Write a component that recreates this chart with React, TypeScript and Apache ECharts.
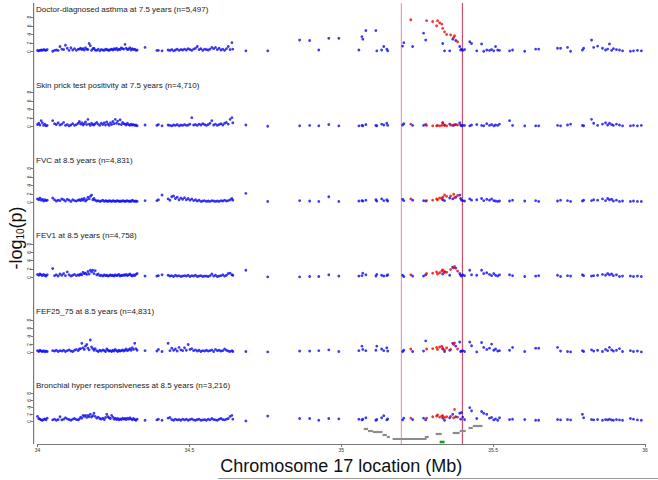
import React, { useEffect, useRef } from "react";
import * as echarts from "echarts";

// ---------------- data ----------------
const panelTitles = [
  "Doctor-diagnosed asthma at 7.5 years (n=5,497)",
  "Skin prick test positivity at 7.5 years (n=4,710)",
  "FVC at 8.5 years (n=4,831)",
  "FEV1 at 8.5 years (n=4,758)",
  "FEF25_75 at 8.5 years (n=4,831)",
  "Bronchial hyper responsiveness at 8.5 years (n=3,216)",
];

const xTicks = [34, 34.5, 35, 35.5, 36];
const yTicks = [0, 2, 4, 6, 8];
const regionBounds = [35.198, 35.399];

// SNP positions (Mb) shown in blue
const bluePos = [
  34.000, 34.004, 34.008, 34.012, 34.016, 34.020, 34.024, 34.028, 34.032, 34.050, 34.056, 34.062,
  34.068, 34.074, 34.080, 34.086, 34.092, 34.098, 34.104, 34.110, 34.116, 34.122, 34.128, 34.134,
  34.138, 34.142, 34.146, 34.150, 34.154, 34.158, 34.162, 34.166, 34.170, 34.174, 34.178, 34.182,
  34.186, 34.190, 34.195, 34.200, 34.205, 34.210, 34.215, 34.220, 34.224, 34.228, 34.232, 34.236,
  34.240, 34.244, 34.248, 34.252, 34.256, 34.260, 34.264, 34.268, 34.272, 34.276, 34.280, 34.284,
  34.288, 34.292, 34.296, 34.300, 34.304, 34.308, 34.312, 34.316, 34.320, 34.324, 34.328, 34.354,
  34.393, 34.398, 34.410, 34.430, 34.436, 34.442, 34.448, 34.454, 34.460, 34.466, 34.472, 34.478,
  34.484, 34.490, 34.496, 34.502, 34.508, 34.514, 34.520, 34.526, 34.532, 34.538, 34.544, 34.550,
  34.556, 34.562, 34.568, 34.574, 34.580, 34.586, 34.592, 34.598, 34.604, 34.610, 34.616, 34.622,
  34.628, 34.634, 34.640, 34.643, 34.686, 34.758, 34.863, 34.896, 34.926, 34.959, 34.992, 35.058,
  35.068, 35.071, 35.081, 35.114, 35.117, 35.133, 35.140, 35.150, 35.153, 35.202, 35.206, 35.235,
  35.271, 35.278, 35.334, 35.340, 35.357, 35.367, 35.377, 35.390, 35.393, 35.396, 35.400, 35.406,
  35.423, 35.429, 35.446, 35.462, 35.469, 35.479, 35.488, 35.495, 35.502, 35.508, 35.515, 35.521,
  35.554, 35.564, 35.604, 35.640, 35.650, 35.712, 35.722, 35.745, 35.755, 35.794, 35.798, 35.824,
  35.831, 35.844, 35.860, 35.870, 35.877, 35.883, 35.890, 35.896, 35.906, 35.916, 35.926, 35.952,
  35.962, 35.975, 35.988,
];

// SNP positions (Mb) shown in red
const redPos = [35.229, 35.281, 35.301, 35.314, 35.317, 35.324, 35.331, 35.334, 35.340, 35.347, 35.360, 35.370, 35.373, 35.383];

// -log10(p) values, blue SNPs
const blueAsthma = [
  0.3, 0.2, 0.3, 0.4, 0.3, 0.5, 0.4, 0.3, 0.5, 0.1, 0.3, 0.4,
  0.3, 1.2, 0.6, 0.5, 1.5, 0.8, 0.3, 0.9, 0.4, 0.7, 0.3, 0.6,
  0.6, 0.8, 0.5, 0.7, 0.4, 0.9, 0.6, 0.5, 1.9, 1.4, 0.3, 0.7,
  0.8, 0.4, 0.3, 0.6, 0.2, 0.5, 0.4, 0.3, 0.6, 0.5, 0.4, 0.3,
  0.5, 0.6, 0.4, 0.7, 0.5, 0.8, 0.4, 0.6, 0.5, 0.9, 0.7, 0.6,
  1.7, 0.8, 0.5, 0.6, 0.9, 0.4, 0.7, 0.5, 0.6, 0.3, 0.4, 1.0,
  0.3, 0.3, 0.2, 0.4, 0.3, 0.5, 0.2, 0.4, 0.6, 0.3, 0.5, 0.4,
  0.6, 0.4, 0.7, 0.5, 0.3, 0.6, 0.8, 1.2, 0.5, 0.7, 0.3, 0.6,
  0.5, 0.4, 0.6, 1.0, 0.7, 1.0, 0.5, 0.8, 0.4, 0.6, 0.3, 0.7,
  1.2, 0.5, 2.1, 0.6, 0.2, 0.2, 2.7, 2.6, 0.4, 3.1, 3.1, 0.4,
  3.5, 2.9, 4.9, 4.9, 0.2, 0.4, 1.2, 0.6, 0.2, 1.3, 2.1, 1.2,
  4.3, 2.7, 1.9, 0.2, 0.2, 2.9, 2.6, 1.2, 0.4, 0.6, 0.3, 0.5,
  2.3, 1.9, 0.2, 1.8, 0.1, 0.4, 0.3, 0.5, 0.2, 1.2, 0.4, 0.3,
  0.2, 0.4, 0.1, 0.6, 0.6, 0.8, 0.8, 1.0, 0.1, 0.4, 0.8, 2.7,
  1.0, 1.3, 0.8, 0.4, 0.6, 1.8, 0.3, 0.7, 0.5, 0.4, 0.2, 0.1,
  0.2, 0.3, 0.2,
];
const blueSkin = [
  0.5, 0.8, 0.4, 1.4, 0.9, 0.3, 0.6, 0.2, 0.3, 1.4, 0.7, 0.5,
  0.9, 0.4, 0.6, 1.0, 0.3, 0.5, 0.2, 0.4, 0.7, 0.3, 0.5, 0.8,
  1.2, 0.6, 0.9, 0.4, 0.7, 1.1, 0.5, 1.7, 0.6, 0.3, 0.8, 0.5,
  0.4, 0.7, 1.0, 0.6, 0.3, 0.8, 0.5, 0.9, 0.4, 1.1, 0.6, 0.3,
  0.9, 0.5, 1.2, 0.7, 1.7, 0.8, 1.3, 0.6, 1.6, 0.5, 1.0, 0.7,
  0.6, 0.4, 0.8, 0.5, 0.3, 0.6, 0.4, 0.5, 0.3, 0.4, 0.2, 0.4,
  0.3, 0.5, 0.2, 0.4, 0.3, 0.2, 0.4, 0.3, 0.5, 0.2, 0.4, 0.3,
  0.5, 0.3, 0.4, 0.6, 2.1, 0.4, 0.5, 0.3, 0.6, 0.4, 0.7, 0.5,
  0.3, 0.5, 0.8, 1.4, 0.4, 0.6, 0.3, 0.5, 0.7, 0.4, 0.8, 1.0,
  0.6, 1.7, 2.1, 0.9, 0.4, 0.1, 0.2, 0.3, 0.2, 0.5, 0.2, 0.2,
  0.3, 0.2, 0.5, 0.3, 0.2, 0.6, 0.4, 0.8, 0.3, 0.4, 0.7, 0.3,
  0.3, 0.5, 0.9, 0.4, 0.6, 0.3, 0.5, 0.9, 0.4, 0.2, 0.3, 0.3,
  0.2, 0.4, 0.5, 0.3, 0.2, 0.7, 0.3, 0.5, 0.2, 0.4, 0.3, 0.6,
  1.4, 0.3, 0.2, 0.2, 0.2, 0.3, 0.2, 0.4, 0.6, 0.3, 0.2, 1.7,
  0.8, 0.3, 0.6, 0.9, 0.4, 0.8, 0.5, 0.3, 0.6, 0.4, 0.2, 0.2,
  0.3, 0.2, 0.3,
];
const blueFvc = [
  0.8, 0.6, 1.0, 0.5, 0.7, 0.3, 0.6, 0.4, 0.5, 1.0, 0.6, 0.3,
  0.5, 0.4, 0.8, 0.6, 0.3, 0.7, 0.5, 0.2, 0.6, 0.4, 0.3, 0.5,
  0.6, 0.4, 0.8, 0.5, 0.9, 0.3, 0.6, 1.2, 0.8, 1.4, 1.7, 0.6,
  0.9, 0.5, 0.3, 0.4, 0.2, 0.3, 0.5, 0.2, 0.4, 0.3, 0.2, 0.4,
  0.3, 0.2, 0.4, 0.3, 0.2, 0.3, 0.4, 0.2, 0.3, 0.2, 0.4, 0.3,
  0.2, 0.3, 0.4, 0.2, 0.3, 0.2, 0.5, 0.3, 0.2, 0.3, 0.2, 0.4,
  0.4, 0.6, 1.7, 0.8, 0.5, 1.3, 1.5, 0.9, 1.2, 0.6, 1.0, 0.7,
  1.1, 0.6, 0.9, 0.5, 0.8, 0.4, 0.6, 0.3, 0.5, 0.2, 0.3, 0.4,
  0.2, 0.3, 0.2, 0.4, 0.3, 0.2, 0.3, 0.2, 0.4, 0.3, 0.5, 0.3,
  0.4, 0.6, 0.9, 0.5, 2.1, 0.2, 0.4, 0.3, 0.2, 1.3, 0.2, 0.3,
  0.4, 0.3, 0.5, 0.6, 0.3, 0.8, 0.4, 0.6, 0.3, 0.7, 0.4, 0.5,
  0.4, 0.3, 0.6, 0.4, 1.0, 0.8, 1.2, 1.7, 0.9, 0.5, 0.4, 0.3,
  0.8, 0.5, 0.6, 0.9, 0.4, 0.7, 0.5, 0.8, 0.4, 0.3, 0.2, 0.3,
  0.3, 0.5, 0.3, 0.4, 0.2, 0.3, 0.5, 0.4, 0.2, 0.3, 0.5, 0.4,
  0.6, 0.5, 0.8, 0.4, 0.9, 0.6, 0.7, 0.3, 0.5, 0.2, 0.3, 0.2,
  0.3, 0.2, 0.2,
];
const blueFev1 = [
  0.7, 0.5, 0.8, 0.6, 0.4, 0.7, 0.5, 0.3, 0.6, 2.1, 0.4, 0.6,
  0.3, 0.8, 0.5, 0.9, 0.4, 1.3, 0.6, 0.3, 0.5, 0.7, 0.4, 0.6,
  0.5, 0.8, 0.6, 1.2, 0.9, 1.0, 0.7, 1.4, 0.8, 1.7, 1.3, 1.7,
  0.9, 1.6, 0.6, 0.8, 0.4, 0.5, 0.3, 0.6, 0.4, 0.5, 0.3, 0.4,
  0.6, 0.4, 0.5, 0.3, 0.6, 0.4, 0.5, 0.7, 0.3, 0.5, 0.4, 0.6,
  0.5, 0.7, 0.4, 0.6, 0.8, 0.5, 0.3, 0.6, 0.4, 0.7, 0.9, 0.3,
  0.3, 0.4, 0.6, 0.5, 0.3, 0.4, 0.2, 0.5, 0.3, 0.4, 0.2, 0.3,
  0.4, 0.3, 0.5, 0.2, 0.4, 0.3, 0.5, 0.2, 0.3, 0.4, 0.2, 0.3,
  0.3, 0.2, 0.4, 0.8, 0.3, 0.5, 0.2, 0.3, 0.4, 0.6, 0.3, 0.5,
  0.9, 1.0, 0.6, 0.5, 1.7, 0.1, 0.1, 0.2, 0.2, 0.6, 0.3, 0.3,
  0.4, 1.0, 0.6, 0.3, 0.7, 0.5, 0.3, 0.4, 0.6, 0.5, 0.2, 0.3,
  0.3, 0.6, 0.8, 1.2, 0.5, 2.4, 2.2, 0.9, 0.5, 0.3, 0.6, 0.4,
  1.7, 0.6, 0.5, 1.7, 0.9, 1.1, 0.7, 0.4, 0.9, 0.5, 0.3, 0.6,
  0.6, 0.4, 0.2, 0.3, 0.4, 0.5, 0.2, 0.4, 0.3, 0.6, 0.4, 0.3,
  0.4, 0.5, 0.7, 0.5, 0.9, 0.6, 0.8, 0.4, 0.6, 0.2, 0.3, 0.3,
  0.2, 0.3, 0.2,
];
const blueFef = [
  0.5, 0.3, 0.6, 0.4, 0.3, 0.5, 0.2, 0.4, 0.3, 0.5, 0.4, 0.6,
  0.3, 0.5, 0.4, 0.6, 0.3, 0.5, 0.7, 0.4, 0.3, 0.6, 0.8, 0.5,
  0.9, 1.0, 2.3, 1.2, 0.8, 1.6, 2.0, 1.1, 0.7, 3.1, 1.4, 1.0,
  0.6, 1.0, 0.5, 0.3, 0.6, 0.4, 0.7, 0.5, 0.3, 0.9, 0.6, 0.4,
  0.5, 0.3, 0.6, 0.4, 0.8, 0.5, 0.3, 0.6, 0.4, 0.5, 0.7, 0.4,
  0.6, 0.9, 0.5, 0.7, 1.0, 0.6, 1.2, 0.8, 2.3, 1.0, 0.6, 0.5,
  0.4, 0.8, 0.3, 2.3, 0.5, 1.1, 0.6, 0.9, 0.4, 1.3, 0.7, 0.5,
  1.2, 0.6, 2.0, 0.8, 1.0, 0.5, 0.7, 0.4, 0.6, 0.3, 0.5, 0.4,
  0.6, 0.4, 0.5, 0.7, 0.3, 0.8, 0.5, 0.6, 0.4, 0.5, 0.9, 0.6,
  0.4, 0.3, 0.5, 0.3, 0.3, 0.2, 0.4, 0.4, 0.5, 0.7, 0.3, 0.5,
  1.6, 0.8, 0.5, 0.6, 1.6, 0.9, 0.5, 1.2, 0.4, 0.3, 0.6, 0.3,
  0.4, 2.9, 0.9, 0.3, 0.6, 2.3, 1.6, 2.6, 0.3, 0.4, 0.5, 0.3,
  2.6, 1.7, 0.2, 2.5, 1.3, 0.8, 1.1, 2.1, 0.6, 0.9, 0.4, 0.5,
  0.6, 1.3, 0.3, 1.1, 1.1, 1.3, 0.4, 0.3, 0.2, 0.5, 0.3, 0.7,
  0.4, 0.6, 0.3, 0.8, 0.5, 1.3, 0.7, 0.4, 0.6, 1.0, 0.3, 0.5,
  0.3, 0.4, 0.2,
];
const blueBhr = [
  1.4, 0.8, 0.6, 0.4, 0.3, 0.5, 0.7, 0.4, 0.9, 0.4, 0.6, 0.3,
  0.5, 1.3, 0.4, 0.6, 1.0, 0.7, 0.5, 0.3, 0.6, 0.8, 0.5, 0.4,
  0.7, 1.2, 0.9, 1.7, 1.4, 1.7, 1.1, 1.7, 1.3, 2.0, 1.2, 1.6,
  2.3, 1.4, 0.9, 1.2, 0.8, 0.6, 0.9, 0.5, 1.1, 2.0, 1.3, 1.0,
  0.8, 1.7, 1.2, 0.6, 0.9, 0.5, 0.8, 0.4, 0.7, 0.5, 0.9, 0.6,
  0.8, 0.5, 0.9, 0.6, 1.0, 0.7, 0.4, 0.8, 0.5, 0.3, 0.6, 0.3,
  0.4, 0.6, 0.3, 0.9, 1.1, 0.5, 0.3, 0.6, 0.4, 0.5, 0.3, 0.6,
  0.4, 0.6, 0.3, 0.5, 0.7, 0.4, 0.3, 0.5, 0.6, 0.3, 0.4, 0.5,
  0.3, 0.6, 0.4, 0.8, 0.5, 0.4, 0.3, 0.6, 0.8, 0.5, 0.4, 0.6,
  0.8, 1.4, 1.7, 0.6, 0.1, 1.5, 0.8, 0.8, 0.3, 0.8, 0.7, 0.6,
  0.4, 0.6, 1.0, 0.3, 0.5, 1.0, 1.6, 0.4, 0.7, 0.4, 0.9, 0.5,
  0.9, 0.4, 0.9, 0.3, 1.0, 2.0, 1.3, 2.3, 0.6, 2.5, 1.2, 0.5,
  3.9, 3.0, 0.8, 2.8, 2.3, 2.0, 0.9, 1.1, 0.4, 0.7, 0.3, 1.0,
  0.5, 0.6, 0.5, 0.3, 0.3, 0.5, 0.4, 0.5, 0.4, 2.0, 1.0, 0.5,
  0.4, 0.5, 0.3, 0.5, 0.4, 0.6, 0.4, 0.3, 0.5, 0.4, 0.3, 0.8,
  0.6, 0.4, 0.3,
];

// -log10(p) values, red SNPs
const redAsthma = [7.4, 7.2, 7.0, 6.0, 7.2, 6.7, 6.4, 5.4, 4.6, 4.0, 3.9, 3.3, 3.7, 2.3];
const redSkin = [0.6, 0.3, 0.2, 0.2, 0.3, 0.2, 0.3, 0.9, 0.3, 0.2, 0.4, 0.3, 0.5, 0.4];
const redFvc = [0.8, 0.4, 0.5, 0.8, 0.6, 1.0, 0.9, 1.2, 1.7, 1.4, 1.5, 1.9, 1.1, 1.6];
const redFev1 = [0.6, 0.9, 1.0, 1.3, 0.8, 1.1, 1.5, 1.8, 1.4, 1.2, 1.9, 2.3, 2.6, 1.5];
const redFef = [0.9, 0.9, 1.0, 1.3, 0.8, 1.4, 1.6, 1.1, 0.7, 1.2, 0.8, 2.0, 2.4, 0.9];
const redBhr = [0.9, 0.9, 1.3, 1.5, 1.8, 1.2, 1.5, 1.6, 1.1, 1.3, 1.4, 1.0, 3.4, 1.2];

// gene track: [start Mb, end Mb, track row]
const geneSegments = [
  [35.074, 35.088, 5], [35.088, 35.104, 7], [35.104, 35.136, 8], [35.136, 35.150, 11],
  [35.150, 35.160, 13], [35.169, 35.281, 15], [35.275, 35.288, 13], [35.311, 35.331, 10],
  [35.367, 35.390, 9], [35.390, 35.410, 7], [35.419, 35.433, 4], [35.433, 35.465, 2],
];
const highlightSegments = [[35.324, 35.340, 18]];

// ---------------- layout ----------------
const blueVals = [blueAsthma, blueSkin, blueFvc, blueFev1, blueFef, blueBhr];
const redVals = [redAsthma, redSkin, redFvc, redFev1, redFef, redBhr];
const panelZero = [51.7, 126.7, 202.3, 277.3, 352.7, 421.3];
const panelH = [34.5, 34.5, 34, 33.3, 32.7, 28];
const titleCenter = [10.7, 86, 161, 236.7, 312.7, 386.7];
const GL = 37.5;
const GR = 13;
const FONT = "'Liberation Sans', Arial, sans-serif";
const AXIS_GREY = "#777777";

export default function App() {
  const ref = useRef<HTMLDivElement>(null);
  useEffect(() => {
    if (!ref.current) return;
    const chart = echarts.init(ref.current, undefined, { renderer: "svg" });
    const n = panelTitles.length;
    const grids: any[] = [];
    const xAxes: any[] = [];
    const yAxes: any[] = [];
    const series: any[] = [];
    for (let i = 0; i < n; i++) {
      grids.push({ left: GL, right: GR, top: panelZero[i] - panelH[i], height: panelH[i] });
      xAxes.push({ type: "value", gridIndex: i, min: 34, max: 36, show: false });
      yAxes.push({
        type: "value",
        gridIndex: i,
        min: yTicks[0],
        max: yTicks[yTicks.length - 1],
        interval: 2,
        offset: 4,
        axisLine: { show: false },
        axisTick: { show: true, length: 3, lineStyle: { color: AXIS_GREY, width: 1 } },
        axisLabel: { rotate: 90, fontSize: 5, margin: 2, color: "#333", fontFamily: FONT },
        splitLine: { show: false },
      });
      series.push({
        type: "scatter",
        xAxisIndex: i,
        yAxisIndex: i,
        data: bluePos.map((x, j) => [x, blueVals[i][j]]),
        symbolSize: 2.8,
        itemStyle: { color: "#0a0af0" },
        clip: false,
        silent: true,
        z: 5,
      });
      series.push({
        type: "scatter",
        xAxisIndex: i,
        yAxisIndex: i,
        data: redPos.map((x, j) => [x, redVals[i][j]]),
        symbolSize: 2.8,
        itemStyle: { color: "#f00000" },
        clip: false,
        silent: true,
        z: 6,
      });
    }
    // gene track grid
    const trackIdx = n;
    grids.push({ left: GL, right: GR, top: 424, height: 22 });
    xAxes.push({ type: "value", gridIndex: trackIdx, min: 34, max: 36, show: false });
    yAxes.push({ type: "value", gridIndex: trackIdx, min: 0, max: 22, inverse: true, show: false });
    const segRender = (fill: string, h: number) => (params: any, api: any) => {
      const s = api.coord([api.value(0), api.value(2)]);
      const e = api.coord([api.value(1), api.value(2)]);
      return {
        type: "rect",
        shape: { x: s[0], y: s[1] - h / 2, width: e[0] - s[0], height: h },
        style: { fill },
      };
    };
    series.push({
      type: "custom",
      xAxisIndex: trackIdx,
      yAxisIndex: trackIdx,
      data: geneSegments,
      encode: { x: [0, 1], y: 2 },
      renderItem: segRender("#8c8c8c", 2.2),
      silent: true,
      z: 3,
    });
    series.push({
      type: "custom",
      xAxisIndex: trackIdx,
      yAxisIndex: trackIdx,
      data: highlightSegments,
      encode: { x: [0, 1], y: 2 },
      renderItem: segRender("#1a9a2a", 2.6),
      silent: true,
      z: 3,
    });
    // overlay grid (full height): x axis, left frame line and region lines
    const ovIdx = n + 1;
    grids.push({ left: GL, right: GR, top: 3, bottom: 34 });
    xAxes.push({
      type: "value",
      gridIndex: ovIdx,
      min: xTicks[0],
      max: xTicks[xTicks.length - 1],
      interval: 0.5,
      axisLine: { show: true, lineStyle: { color: AXIS_GREY, width: 1 } },
      axisTick: { show: true, length: 3, lineStyle: { color: AXIS_GREY } },
      axisLabel: { fontSize: 5, margin: 3, color: "#333", fontFamily: FONT, formatter: (v: number) => String(v) },
      splitLine: { show: false },
      name: "Chromosome 17 location (Mb)",
      nameLocation: "middle",
      nameGap: 12,
      nameTextStyle: { fontSize: 18, color: "#111", fontFamily: FONT },
    });
    yAxes.push({
      type: "value",
      gridIndex: ovIdx,
      min: 0,
      max: 1,
      show: false,
    });
    // left frame line drawn as a custom element spanning the overlay grid
    series.push({
      type: "custom",
      xAxisIndex: ovIdx,
      yAxisIndex: ovIdx,
      data: [[xTicks[0], 0]],
      renderItem: (params: any, api: any) => {
        const top = api.coord([xTicks[0], 1]);
        const bot = api.coord([xTicks[0], 0]);
        return {
          type: "rect",
          shape: { x: top[0] - 4.5, y: top[1], width: 1.2, height: bot[1] - top[1] },
          style: { fill: "#7a7a7a" },
        };
      },
      clip: false,
      silent: true,
      z: 10,
    });
    const boundColors = ["#e0a2ba", "#c8506c"];
    regionBounds.forEach((b, k) => {
      series.push({
        type: "line",
        xAxisIndex: ovIdx,
        yAxisIndex: ovIdx,
        data: [[b, 0], [b, 1]],
        symbol: "none",
        lineStyle: { color: boundColors[k], width: 1.2 },
        silent: true,
        z: 1,
      });
    });

    chart.setOption({
      animation: false,
      backgroundColor: "#ffffff",
      textStyle: { fontFamily: FONT },
      title: panelTitles.map((t, i) => ({
        text: t,
        left: 36,
        top: titleCenter[i] - 5,
        padding: 0,
        textStyle: { fontSize: 8, fontWeight: "normal", color: "#222", fontFamily: FONT },
      })),
      grid: grids,
      xAxis: xAxes,
      yAxis: yAxes,
      series,
      graphic: [
        {
          type: "text",
          x: 16,
          y: 238,
          rotation: Math.PI / 2,
          style: {
            text: "-log{s|10}(p)",
            fontSize: 18,
            fontFamily: FONT,
            fill: "#111",
            align: "center",
            verticalAlign: "middle",
            rich: {
              s: { fontSize: 10, fontFamily: FONT, fill: "#111", padding: [8, 0, 0, 0] },
            },
          },
        },
        {
          type: "rect",
          left: 218,
          top: 478,
          shape: { x: 0, y: 0, width: 440, height: 1 },
          style: { fill: "#9a9a9a" },
          silent: true,
        },
      ],
    });
    return () => chart.dispose();
  }, []);
  return <div ref={ref} style={{ position: "fixed", left: 0, top: 0, width: 658, height: 480 }} />;
}
